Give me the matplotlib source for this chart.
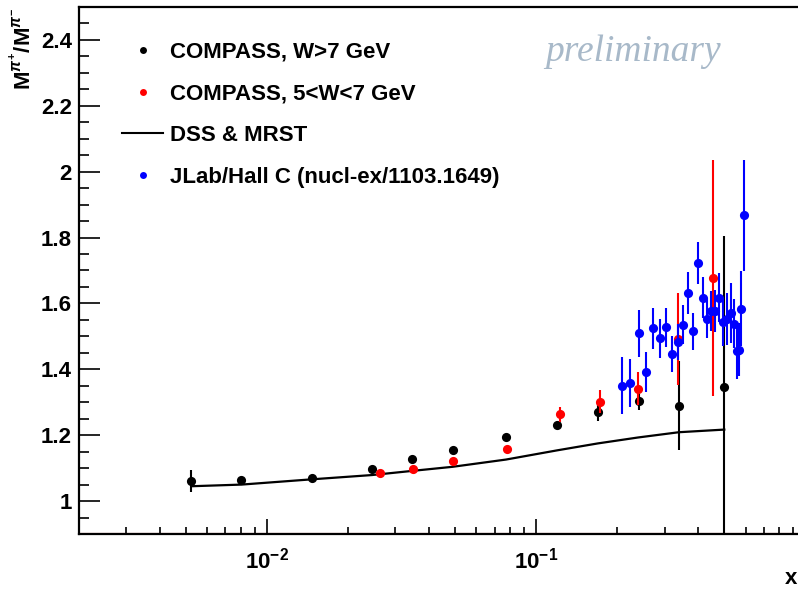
import numpy as np
import matplotlib
matplotlib.use("Agg")
import matplotlib.pyplot as plt
from matplotlib.ticker import FixedLocator, FuncFormatter, MultipleLocator, NullFormatter
from matplotlib.lines import Line2D

plt.rcParams['font.family'] = ['Liberation Sans', 'DejaVu Sans']
plt.rcParams['font.weight'] = 'bold'
plt.rcParams['mathtext.fontset'] = 'custom'
plt.rcParams['mathtext.rm'] = 'Liberation Sans:bold'
plt.rcParams['mathtext.bf'] = 'Liberation Sans:bold'
plt.rcParams['mathtext.it'] = 'Liberation Sans:italic:bold'

# ---- data ----
# COMPASS, W>7 GeV
cw7_x = [0.00523, 0.00803, 0.01466, 0.02455, 0.0346, 0.0489, 0.0772, 0.1197, 0.1694, 0.2418, 0.339, 0.500]
cw7_y = [1.061, 1.065, 1.070, 1.096, 1.129, 1.154, 1.196, 1.230, 1.271, 1.305, 1.290, 1.346]
cw7_e = [0.032, 0.005, 0.005, 0.006, 0.006, 0.007, 0.007, 0.008, 0.028, 0.030, 0.135, 0.460]

# COMPASS, 5<W<7 GeV
cw5_x = [0.02636, 0.0349, 0.0490, 0.0778, 0.1231, 0.1728, 0.2385, 0.3368, 0.4544]
cw5_y = [1.084, 1.096, 1.121, 1.159, 1.264, 1.302, 1.341, 1.492, 1.678]
cw5_e = [0.005, 0.005, 0.006, 0.007, 0.023, 0.034, 0.050, 0.139, 0.358]

# DSS & MRST
dss_x = [0.00523, 0.00803, 0.01466, 0.02455, 0.0350, 0.0489, 0.0772, 0.1197, 0.1694, 0.2389, 0.339, 0.500]
dss_y = [1.045, 1.050, 1.066, 1.079, 1.092, 1.104, 1.126, 1.154, 1.175, 1.193, 1.209, 1.217]

# JLab / Hall C
jl_x = [0.2080, 0.2240, 0.2406, 0.2562, 0.2720, 0.2879, 0.3046, 0.3199, 0.3367, 0.3524,
        0.3677, 0.3838, 0.4006, 0.4159, 0.4315, 0.4476, 0.4632, 0.4793, 0.4948, 0.5120,
        0.5284, 0.5435, 0.5592, 0.5650, 0.5756, 0.5921]
jl_y = [1.350, 1.359, 1.509, 1.392, 1.525, 1.494, 1.527, 1.447, 1.482, 1.536,
        1.632, 1.516, 1.724, 1.618, 1.554, 1.577, 1.577, 1.618, 1.545, 1.554,
        1.571, 1.538, 1.455, 1.460, 1.584, 1.867]
jl_e = [0.087, 0.073, 0.071, 0.060, 0.062, 0.060, 0.059, 0.055, 0.055, 0.058,
        0.063, 0.056, 0.064, 0.063, 0.060, 0.061, 0.064, 0.073, 0.073, 0.079,
        0.090, 0.074, 0.085, 0.080, 0.113, 0.169]

ytick_vals = [1.0, 1.2, 1.4, 1.6, 1.8, 2.0, 2.2, 2.4]
xtick_vals = [0.01, 0.1]
xtick_labels = [r'$\mathbf{10^{-2}}$', r'$\mathbf{10^{-1}}$']

labels = ['COMPASS, W>7 GeV', 'COMPASS, 5<W<7 GeV', 'DSS & MRST', 'JLab/Hall C (nucl-ex/1103.1649)']

# ---- figure ----
W, H = 798, 589
fig = plt.figure(figsize=(W / 100, H / 100), dpi=100)
ax = fig.add_axes([79 / W, 1 - 534 / H, (805.3 - 79) / W, (534 - 7) / H])

ax.set_xscale('log')
ax.set_xlim(0.002, 1.0)
ax.set_ylim(0.9, 2.5)

ax.plot(dss_x, dss_y, color='black', lw=1.6, zorder=2)

ekw = dict(fmt='o', ms=6.6, elinewidth=1.5, capsize=2.8, capthick=1.8, mew=0)
ax.errorbar(cw7_x, cw7_y, yerr=cw7_e, color='black', ecolor='black', zorder=3, **ekw)
ax.errorbar(cw5_x, cw5_y, yerr=cw5_e, color='#ff0000', ecolor='#ff0000', zorder=4, **ekw)
ax.errorbar(jl_x, jl_y, yerr=jl_e, color='#0000ff', ecolor='#0000ff', zorder=5, **ekw)

# faint red baseline along the bottom
ax.axhline(0.903, color='#cc0000', lw=0.8, zorder=1)

# ticks
ax.xaxis.set_major_locator(FixedLocator(xtick_vals))
ax.set_xticklabels(xtick_labels, fontsize=16)
ax.xaxis.set_minor_locator(FixedLocator(
    [m * 10.0 ** e for e in (-3, -2, -1) for m in range(2, 10)]))
ax.xaxis.set_minor_formatter(NullFormatter())
ax.yaxis.set_major_locator(FixedLocator(ytick_vals))
ax.yaxis.set_major_formatter(FuncFormatter(lambda v, p: '%g' % v))
ax.yaxis.set_minor_locator(MultipleLocator(0.05))

ax.tick_params(axis='y', which='major', direction='in', length=15, width=1.2,
               labelsize=16, pad=5)
ax.tick_params(axis='y', which='minor', direction='in', length=7.5, width=1.2)
ax.tick_params(axis='x', which='major', direction='in', length=10.5, width=1.2,
               labelsize=16, pad=10)
ax.tick_params(axis='x', which='minor', direction='in', length=5.3, width=1.2)
for s in ax.spines.values():
    s.set_linewidth(1.6)

# legend
handles = [
    Line2D([], [], ls='none', marker='o', color='black', ms=5, mew=0),
    Line2D([], [], ls='none', marker='o', color='#ff0000', ms=5, mew=0),
    Line2D([], [], color='black', lw=1.5),
    Line2D([], [], ls='none', marker='o', color='#0000ff', ms=5, mew=0),
]
leg = ax.legend(handles, labels, loc='upper left', bbox_to_anchor=(0.0592, 0.934),
                frameon=False, prop={'family': 'Liberation Sans', 'weight': 'bold', 'size': 16},
                handlelength=1.85, handletextpad=0.32, labelspacing=0.93,
                borderaxespad=0.0, borderpad=0.0)

# preliminary
ax.text(0.763, 0.915, 'preliminary', transform=ax.transAxes, ha='center', va='center',
        fontsize=27, style='italic', weight='normal', family='Liberation Serif',
        color='#a8b9c9')

# axis labels
fig.text(22 / W, 1 - 8 / H, r'$\mathbf{M}^{\pi^{+}}/\mathbf{M}^{\pi^{-}}$',
         rotation=90, ha='center', va='top', fontsize=16)
fig.text(785 / W, 1 - 578 / H, 'x', ha='left', va='center', fontsize=16, weight='bold')

fig.savefig('out.png', dpi=100)
